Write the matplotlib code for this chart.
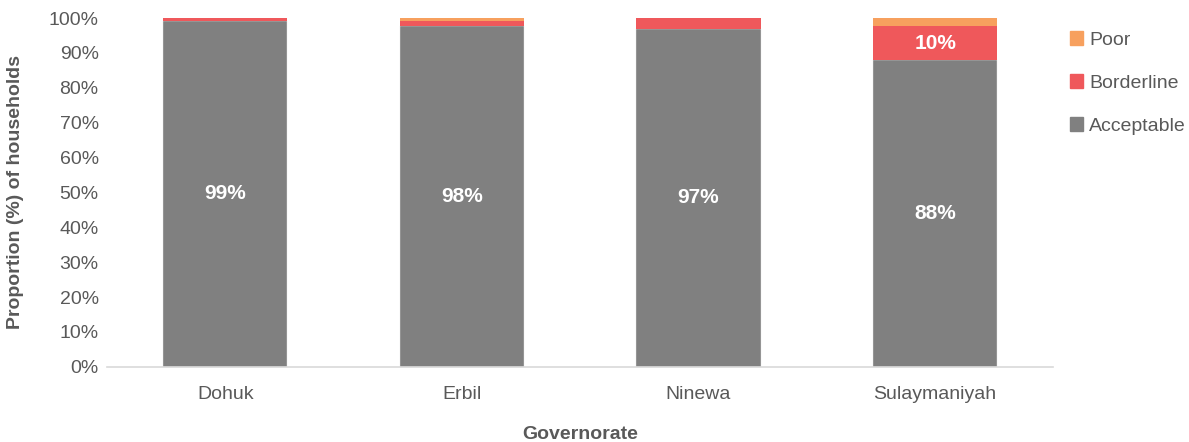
import matplotlib
matplotlib.use("Agg")
import matplotlib.pyplot as plt
from matplotlib.ticker import PercentFormatter
from matplotlib.patches import Patch

plt.rcParams['font.family'] = ['Liberation Sans Narrow', 'Liberation Sans', 'DejaVu Sans']

governorates = ["Dohuk", "Erbil", "Ninewa", "Sulaymaniyah"]
acceptable = [99.3, 97.6, 97.0, 87.9]
borderline = [0.7, 1.6, 3.0, 9.7]
poor = [0.0, 0.8, 0.0, 2.4]

c_acc = "#808080"
c_bord = "#EF585B"
c_poor = "#F7A05E"
txt = "#595959"

fig = plt.figure(figsize=(11.89, 4.42), dpi=100)
ax = fig.add_axes([0.090, 0.170, 0.796, 0.789])

x = range(len(governorates))
w = 0.525
ax.bar(x, acceptable, w, color=c_acc, edgecolor="#E8E8E8", linewidth=0.3)
ax.bar(x, borderline, w, bottom=acceptable, color=c_bord, linewidth=0)
bottom2 = [a + b for a, b in zip(acceptable, borderline)]
ax.bar(x, poor, w, bottom=bottom2, color=c_poor, linewidth=0)

# labels on the larger segments
for i, v in enumerate(acceptable):
    ax.text(i, v / 2, f"{v:.0f}%", ha="center", va="center", color="white",
            fontsize=15, fontweight="bold")
for i, v in enumerate(borderline):
    if v >= 5:
        ax.text(i, acceptable[i] + v / 2, f"{v:.0f}%", ha="center", va="center",
                color="white", fontsize=15, fontweight="bold")

ax.set_xlim(-0.5, 3.5)
ax.set_ylim(0, 100)
ax.set_yticks(range(0, 101, 10))
ax.yaxis.set_major_formatter(PercentFormatter(decimals=0))
ax.set_xticks(list(x))
ax.set_xticklabels(governorates)
ax.tick_params(length=0, labelsize=14, colors=txt, pad=6)
ax.tick_params(axis="x", pad=14)
for s in ["top", "right", "left"]:
    ax.spines[s].set_visible(False)
ax.spines["bottom"].set_color("#D9D9D9")
ax.spines["bottom"].set_linewidth(1.2)

ax.set_xlabel("Governorate", fontsize=14, fontweight="bold", color=txt, labelpad=16)
ax.set_ylabel("Proportion (%) of households", fontsize=14, fontweight="bold", color=txt, labelpad=18)

handles = [Patch(color=c_poor), Patch(color=c_bord), Patch(color=c_acc)]
fig.legend(handles, ["Poor", "Borderline", "Acceptable"], loc="upper left",
           bbox_to_anchor=(0.885, 0.969), frameon=False, fontsize=14,
           labelcolor=txt, handlelength=0.7, handleheight=0.7, handletextpad=0.3,
           labelspacing=1.3)

fig.savefig("out.png", dpi=100)
